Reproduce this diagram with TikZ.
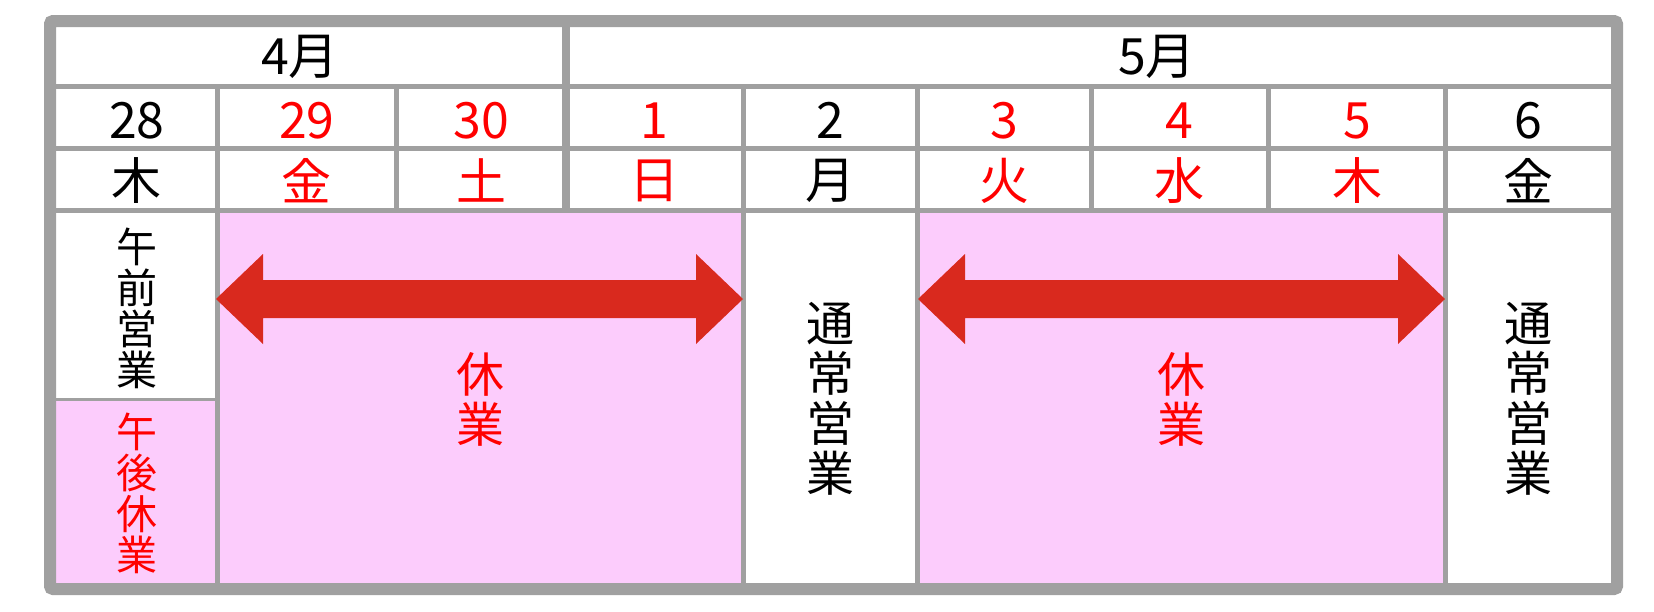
\documentclass[tikz,border=0pt]{standalone}
\usepackage{fontspec}
\setmainfont{Noto Sans CJK JP}
\definecolor{gridgray}{RGB}{160,160,160}
\definecolor{holpink}{RGB}{252,204,252}
\definecolor{arrowred}{RGB}{217,41,30}
\definecolor{txtred}{RGB}{255,0,0}
\begin{document}
\begin{tikzpicture}[x=1pt,y=-1pt,
  gridline/.style={draw=gridgray,line width=5pt},
  hdr/.style={font=\fontsize{50}{50}\selectfont, inner sep=0pt, anchor=center},
  smallv/.style={font=\fontsize{41}{41}\selectfont, inner sep=0pt, align=center, anchor=center},
  bigv/.style={font=\fontsize{48}{50}\selectfont, inner sep=0pt, align=center, anchor=center},
  hol/.style={text=txtred},
  bigarrow/.style={fill=arrowred, draw=none}]
\useasboundingbox (0,0) rectangle (1654,611);
% fills
\fill[white] (50,21) rectangle (1617,589);
\fill[holpink] (217.5,210.5) rectangle (743.5,583);
\fill[holpink] (917.5,210.5) rectangle (1445.5,583);
\fill[holpink] (56,399.5) rectangle (217.5,583);
% horizontal grid lines
\draw[gridline] (56,86.5) -- (1611,86.5);
\draw[gridline] (56,148.5) -- (1611,148.5);
\draw[gridline] (56,210.5) -- (1611,210.5);
\draw[draw=gridgray, line width=2.5pt] (56,399.5) -- (217.5,399.5);
% vertical grid lines
\draw[draw=gridgray, line width=7.5pt] (566,27) -- (566,210.5);
\foreach \xx in {396,1091,1268.5}
  \draw[gridline] (\xx,86.5) -- (\xx,210.5);
\foreach \xx in {217.5,743.5,917.5,1445.5}
  \draw[gridline] (\xx,86.5) -- (\xx,583);
% double arrows
\fill[bigarrow] (216,299) -- (263,254) -- (263,280) -- (696,280) -- (696,254) -- (743,299)
  -- (696,344) -- (696,318) -- (263,318) -- (263,344) -- cycle;
\fill[bigarrow] (918,299) -- (965,254) -- (965,280) -- (1398,280) -- (1398,254) -- (1445,299)
  -- (1398,344) -- (1398,318) -- (965,318) -- (965,344) -- cycle;
% frame
\draw[gridgray, line width=12pt, rounded corners=3pt] (50,21) rectangle (1617,589);
% month row
\node[hdr] (apr) at (300,56.5) {4月};
\node[hdr] (may) at (1157,56.5) {5月};
% date row
\node[hdr] (d28) at (136.75,120.5) {28};
\node[hdr,hol] (d29) at (306.75,120.5) {29};
\node[hdr,hol] (d30) at (481,120.5) {30};
\node[hdr,hol] (d1) at (654.75,120.5) {1};
\node[hdr] (d2) at (830.5,120.5) {2};
\node[hdr,hol] (d3) at (1004.25,120.5) {3};
\node[hdr,hol] (d4) at (1179.75,120.5) {4};
\node[hdr,hol] (d5) at (1357,120.5) {5};
\node[hdr] (d6) at (1528.25,120.5) {6};
% weekday row
\node[hdr] (w28) at (136.75,180.5) {木};
\node[hdr,hol] (w29) at (306.75,180.5) {金};
\node[hdr,hol] (w30) at (481,180.5) {土};
\node[hdr,hol] (w1) at (654.75,180.5) {日};
\node[hdr] (w2) at (830.5,180.5) {月};
\node[hdr,hol] (w3) at (1004.25,180.5) {火};
\node[hdr,hol] (w4) at (1179.75,180.5) {水};
\node[hdr,hol] (w5) at (1357,180.5) {木};
\node[hdr] (w6) at (1528.25,180.5) {金};
% body texts
\node[smallv] (am) at (136.75,308) {午\\前\\営\\業};
\node[smallv,hol] (pm) at (136.75,493.5) {午\\後\\休\\業};
\node[bigv,hol] (off1) at (480.5,399) {休\\業};
\node[bigv] (norm1) at (830.5,399) {通\\常\\営\\業};
\node[bigv,hol] (off2) at (1181.5,399) {休\\業};
\node[bigv] (norm2) at (1528.25,399) {通\\常\\営\\業};
\end{tikzpicture}
\end{document}
